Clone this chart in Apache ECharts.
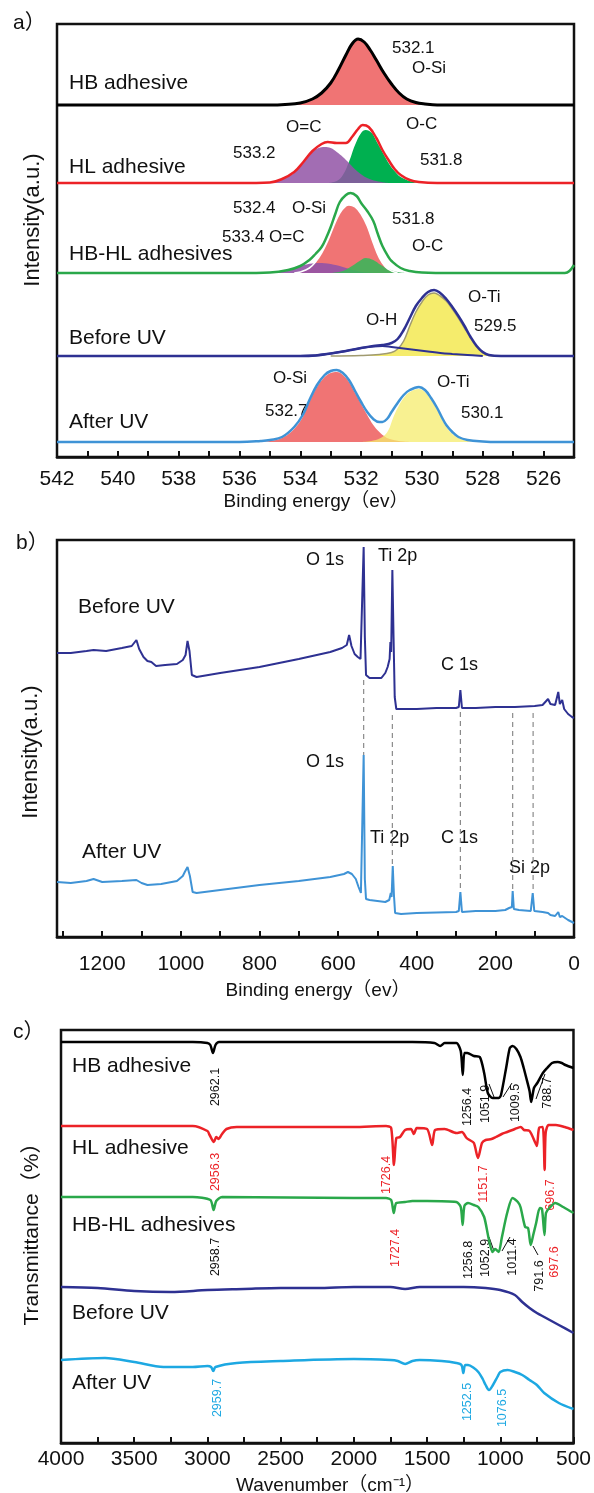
<!DOCTYPE html>
<html>
<head>
<meta charset="utf-8">
<script src="https://cdn.jsdelivr.net/npm/echarts@6/dist/echarts.min.js"></script>
<style>
  html, body { margin: 0; padding: 0; background: #fff; }
  #chart { width: 594px; height: 1493px; }
</style>
</head>
<body>
<div id="chart"></div>
<script>
// ---------- a) O 1s high resolution, heights above each curve's own baseline ----------
const aBase = { hb: 352, hl: 274, hbhl: 184, before: 101, after: 15 }

const hbEnv = [[542,0],[535,0],[534.5,0.5],[534,2],[533.6,6],[533.3,12],[533,22],[532.75,35],[532.5,50],[532.3,61],[532.1,66],[531.9,63],[531.7,55],[531.5,45],[531.25,32],[531,21],[530.75,12],[530.5,6],[530.2,2.5],[529.9,1],[529.5,0],[525,0]]

const hlEnv = [[542,0],[536,0],[535,0.5],[534.6,4],[534.2,11],[533.9,21],[533.6,32],[533.3,39],[533.1,41],[532.8,40],[532.5,40],[532.3,46],[532.1,54],[531.95,58],[531.75,56],[531.5,45],[531.3,33],[531.1,23],[530.9,14],[530.7,8],[530.4,3],[530.1,1],[529.5,0],[525,0]]
const hlOeqC = [[535.2,0],[534.8,2],[534.5,5],[534.2,10],[533.9,20],[533.6,31],[533.4,35],[533.2,36],[533,35],[532.8,31],[532.6,26],[532.4,20],[532.1,11],[531.8,5],[531.5,2],[531.1,0]]
const hlOC = [[533.1,0],[532.8,2],[532.6,8],[532.4,21],[532.2,38],[532,50],[531.85,53],[531.65,50],[531.5,42],[531.3,31],[531.1,20],[530.9,12],[530.7,6],[530.4,2],[530.1,0]]

const hbhlEnv = [[542,0],[536,0],[535,0.5],[534.4,3],[534,7],[533.7,13],[533.5,19],[533.3,26],[533.15,35],[533,46],[532.85,59],[532.7,71],[532.5,78],[532.35,80],[532.15,77],[532,70],[531.8,62],[531.6,52],[531.45,39],[531.3,27],[531.1,16],[531,12],[530.7,5],[530.4,2],[530,0.5],[529,0],[525.3,0],[525.15,2],[525,8]]
const hbhlOSi = [[534.2,0],[534,1],[533.7,5],[533.5,11],[533.3,20],[533.1,32],[532.9,47],[532.7,60],[532.5,67],[532.4,68],[532.2,66],[532,59],[531.8,47],[531.6,30],[531.4,15],[531.2,6],[531,2],[530.8,0]]
const hbhlOeqC = [[535,0],[534.6,2],[534.2,5],[533.8,8.5],[533.4,10],[533,9],[532.6,6],[532.2,2.5],[531.8,0.5],[531.4,0]]
const hbhlOC = [[533,0],[532.6,2],[532.3,7],[532.05,12],[531.85,15],[531.6,13],[531.35,8],[531.1,4],[530.8,1],[530.5,0]]

const beforeEnv = [[542,0],[534,0],[533.5,0.5],[533,2.5],[532.5,5],[532,8],[531.6,10],[531.3,11],[531,13],[530.8,17],[530.6,26],[530.4,38],[530.2,50],[530,58],[529.8,64],[529.6,66],[529.4,63],[529.2,57],[529,49],[528.8,40],[528.6,30],[528.4,19],[528.2,10],[528,4],[527.8,1],[527.4,0],[525,0]]
const beforeOH = [[534,0],[533.5,0.5],[533,2.5],[532.5,5],[532,8],[531.6,9.5],[531.3,10],[531,9],[530.6,7.5],[530.2,6],[529.8,4.5],[529.4,3],[529,2],[528.5,1],[528,0]]
const beforeOTi = [[533,0],[532,0.5],[531.4,1.5],[531,3.5],[530.8,7],[530.6,15],[530.4,30],[530.2,44],[530,54],[529.8,61],[529.6,63],[529.4,60],[529.2,55],[529,47],[528.8,38],[528.6,28],[528.4,18],[528.2,9],[528,3],[527.8,0.5],[527.5,0]]

const afterEnv = [[542,0],[536,0],[535.3,1],[535,2],[534.6,5],[534.2,15],[533.9,28],[533.7,42],[533.45,57],[533.2,67],[533,71],[532.8,72],[532.6,69],[532.4,62],[532.2,51],[532,40],[531.8,30],[531.6,23],[531.4,20],[531.3,20],[531.15,23],[531,30],[530.8,39],[530.6,47],[530.4,52],[530.1,55],[529.9,52],[529.7,44],[529.5,34],[529.35,25],[529.2,17],[529,10],[528.8,5],[528.5,2],[528,0.5],[527.5,0],[525,0]]
const afterOSi = [[535.3,0],[535,1],[534.6,4],[534.2,13],[533.9,26],[533.7,40],[533.45,55],[533.2,65],[533,69],[532.8,70],[532.6,67],[532.4,60],[532.2,49],[532,38],[531.8,27],[531.6,17],[531.4,10],[531.2,5],[531,2.5],[530.6,0.5],[530.2,0]]
const afterOTi = [[532,0],[531.6,1.5],[531.3,5],[531.1,12],[530.95,24],[530.8,34],[530.6,44],[530.4,50],[530.1,53],[529.9,50],[529.7,42],[529.5,32],[529.35,23],[529.2,15],[529,8],[528.8,4],[528.5,1],[528.2,0]]

// ---------- b) survey spectra ----------
const surveyBefore = [[1315,284],[1280,284],[1240,286],[1222,287],[1190,286],[1150,289],[1125,291],[1113,297],[1106,288],[1095,280],[1085,276],[1075,275],[1063,271],[1040,272],[1010,273],[995,277],[988,282],[983,296],[978,286],[972,262],[960,260],[900,264],[800,270],[700,278],[620,285],[590,289],[578,292],[572,302],[566,291],[558,283],[550,280],[543,278],[538,280],[535,390],[532,300],[529,262],[520,259],[500,259],[490,259],[480,264],[474,270],[469,278],[467,295],[465,285],[462,367],[459,300],[456,240],[452,228],[440,228],[400,228],[350,229],[300,229],[293,230],[289,247],[285,229],[250,229],[200,230],[150,230],[100,231],[80,232],[66,238],[60,233],[48,232],[40,245],[36,233],[30,237],[25,228],[15,223],[5,220],[0,219]]
const surveyAfter = [[1315,55],[1280,54],[1240,56],[1222,58],[1200,55],[1150,56],[1113,57],[1100,54],[1085,52],[1050,53],[1010,56],[995,61],[990,65],[983,70],[977,61],[970,45],[960,44],[900,47],[800,52],[700,56],[620,60],[585,63],[575,65],[565,63],[555,58],[548,50],[542,44],[538,46],[535,182],[532,58],[529,38],[520,37],[500,36],[480,35],[470,37],[466,44],[464,40],[461,71],[458,42],[455,24],[440,23],[400,24],[300,25],[293,26],[289,45],[285,25],[250,26],[200,26],[175,27],[165,29],[158,30],[156,46],[153,28],[140,27],[110,26],[105,44],[101,26],[80,25],[66,24],[60,22],[48,21],[40,25],[36,20],[30,21],[15,17],[5,15],[0,14]]
const guideEnergy = [535, 462, 289, 156, 104]
const guideTop = [257, 222, 225, 224, 224]
const guideBottom = [182, 71, 45, 46, 44]

// ---------- c) FTIR ----------
const ftHB = [[4000,401],[3100,401],[3000,400],[2980,398],[2962,390],[2945,398],[2920,401],[2000,401],[1600,401],[1450,400],[1410,397],[1380,400],[1300,400],[1270,392],[1256,368],[1245,390],[1225,390],[1180,387],[1140,386],[1110,370],[1085,350],[1052,345],[1030,345],[1010,345],[995,348],[960,375],[935,395],[916,397],[890,394],[862,386],[840,375],[824,366],[800,352],[789,341],[770,355],[747,360],[709,370],[680,375],[647,380],[608,381],[580,380],[555,378],[500,375]]
const ftHL = [[4000,317],[3100,317],[3000,312],[2985,308],[2956,301],[2940,306],[2925,304],[2900,309],[2870,314],[2800,316],[2000,316],[1780,317],[1745,315],[1726,278],[1710,305],[1685,306],[1650,313],[1610,314],[1590,309],[1570,315],[1500,314],[1465,298],[1445,313],[1380,314],[1300,310],[1262,311],[1230,305],[1210,303],[1180,300],[1152,285],[1125,300],[1100,303],[1060,304],[1030,306],[990,309],[953,311],[900,314],[860,316],[838,313],[800,312],[760,300],[750,297],[735,315],[710,316],[697,273],[690,310],[670,318],[620,318],[560,316],[500,313]]
const ftHBHL = [[4000,246],[3100,246],[2980,243],[2958,233],[2940,242],[2900,246],[2000,245],[1780,245],[1745,243],[1727,230],[1710,240],[1650,241],[1600,242],[1500,242],[1300,241],[1270,236],[1257,218],[1245,237],[1220,240],[1180,238],[1150,236],[1110,226],[1080,205],[1053,191],[1035,194],[1011,191],[990,205],[953,230],[916,245],[880,241],[862,236],[830,216],[810,215],[792,198],[775,208],[755,220],[730,235],[715,234],[698,208],[688,230],[665,235],[625,240],[570,236],[500,230]]
const ftBefore = [[4000,156],[3750,155],[3500,152],[3250,151],[3000,153],[2750,154],[2500,155],[2250,155],[2000,156],[1750,156],[1650,154],[1550,156],[1250,156],[1100,155],[1000,153],[900,148],[850,141],[800,135],[750,130],[700,126],[600,118],[500,110]]
const ftAfter = [[4000,83],[3700,85],[3500,81],[3300,76],[3100,76],[3000,77],[2975,76],[2960,72],[2945,76],[2800,80],[2500,82],[2000,84],[1750,83],[1700,82],[1650,79],[1600,82],[1550,83],[1400,82],[1300,80],[1265,78],[1252,70],[1240,78],[1220,78],[1180,75],[1150,71],[1120,64],[1100,58],[1077,53],[1050,58],[1020,66],[1000,71],[950,73],[900,71],[850,68],[800,63],[750,58],[700,50],[600,40],[500,34]]

const FONT = '"Liberation Sans", Arial, "Noto Sans CJK SC", sans-serif'
const RED = '#ec2227', GREEN = '#2aa84a', NAVY = '#2e3192', SKY = '#3f93d6', CYAN = '#1da8e2'

function shift(arr, base) {
  return arr.map(p => [p[0], base + p[1]])
}

function curve(axis, data, color, width, smooth, z) {
  return {
    type: 'line', xAxisIndex: axis, yAxisIndex: axis, data: data,
    symbol: 'none', smooth: smooth, silent: true, z: z || 3,
    lineStyle: { color: color, width: width }
  }
}

function fill(data, base, color, opacity, edge) {
  return {
    type: 'line', xAxisIndex: 0, yAxisIndex: 0, data: shift(data, base),
    symbol: 'none', smooth: 0.4, silent: true, z: 2,
    lineStyle: edge ? { color: edge, width: 1.5 } : { width: 0 },
    areaStyle: { color: color, opacity: opacity, origin: base }
  }
}

function xAxisOf(grid, min, max, step, labelStep, margin) {
  return {
    gridIndex: grid, type: 'value', min: min, max: max, interval: step, inverse: true,
    axisLine: { onZero: false, lineStyle: { color: '#111', width: 2.5 } },
    axisTick: { inside: true, length: 6, lineStyle: { color: '#111', width: 2 } },
    axisLabel: {
      margin: margin, fontSize: 21, color: '#111', fontFamily: FONT,
      formatter: v => (Math.round(v) % labelStep === 0 ? String(v) : '')
    },
    splitLine: { show: false }
  }
}

function yAxisOf(grid, max) {
  return { gridIndex: grid, type: 'value', min: 0, max: max, show: false }
}

function txt(x, y, text, size, color, align, rot) {
  return {
    type: 'text', x: x, y: y, rotation: rot || 0, silent: true,
    style: { text: text, fill: color || '#111', font: size + 'px ' + FONT,
      textAlign: align || 'left', textVerticalAlign: 'middle' }
  }
}

function arrow(points) {
  return { type: 'polyline', silent: true, shape: { points: points }, style: { stroke: '#111', lineWidth: 1, fill: null } }
}

const UP = Math.PI / 2

const series = [
  // a) fills first, envelopes over them
  fill(hbEnv, aBase.hb, '#f07474', 1, '#999'),
  fill(hlOC, aBase.hl, '#00b050', 1),
  fill(hlOeqC, aBase.hl, '#9253a6', 0.85),
  fill(hbhlOSi, aBase.hbhl, '#f07474', 1, '#fff'),
  fill(hbhlOeqC, aBase.hbhl, '#9253a6', 0.9),
  fill(hbhlOC, aBase.hbhl, '#3cb55a', 0.9),
  fill(beforeOTi, aBase.before, '#f5ec6c', 1, '#a09a70'),
  fill(afterOSi, aBase.after, '#f07474', 1),
  fill(afterOTi, aBase.after, '#f5ec6c', 0.75),
  curve(0, shift(hbEnv, aBase.hb), '#000', 3, 0.4, 4),
  curve(0, shift(hlEnv, aBase.hl), RED, 2.5, 0.4, 4),
  curve(0, shift(hbhlEnv, aBase.hbhl), GREEN, 2.5, 0.4, 4),
  curve(0, shift(beforeOH, aBase.before), NAVY, 2, 0.4, 4),
  curve(0, shift(beforeEnv, aBase.before), NAVY, 2.5, 0.4, 4),
  curve(0, shift(afterEnv, aBase.after), SKY, 2.5, 0.4, 4),
  // b)
  curve(1, surveyBefore, NAVY, 2, false, 4),
  curve(1, surveyAfter, SKY, 2, false, 4),
  // c)
  curve(2, ftHB, '#000', 2.5, 0.25, 4),
  curve(2, ftHL, RED, 2.5, 0.25, 4),
  curve(2, ftHBHL, GREEN, 2.5, 0.25, 4),
  curve(2, ftBefore, NAVY, 2.5, 0.3, 4),
  curve(2, ftAfter, CYAN, 2.5, 0.3, 4)
]

guideEnergy.forEach((e, i) => {
  series.push({
    type: 'line', xAxisIndex: 1, yAxisIndex: 1, symbol: 'none', silent: true, z: 2,
    data: [[e, guideTop[i]], [e, guideBottom[i]]],
    lineStyle: { color: '#8a8a8a', width: 1.2, type: [5, 4] }
  })
})

const graphic = [
  // panel letters and axis names
  txt(13, 23, 'a）', 21), txt(16, 543, 'b）', 21), txt(13, 1032, 'c）', 21),
  txt(33, 220, 'Intensity(a.u.)', 22, '#111', 'center', UP),
  txt(31, 752, 'Intensity(a.u.)', 22, '#111', 'center', UP),
  txt(32, 1229, 'Transmittance（%）', 21, '#111', 'center', UP),
  txt(316, 502, 'Binding energy（ev）', 19, '#111', 'center'),
  txt(318, 991, 'Binding energy（ev）', 19, '#111', 'center'),
  txt(330, 1486, 'Wavenumber（cm⁻¹）', 19, '#111', 'center'),

  // a) sample names and peak annotations
  txt(69, 83, 'HB adhesive', 21), txt(69, 167, 'HL adhesive', 21),
  txt(69, 254, 'HB-HL adhesives', 21), txt(69, 338, 'Before UV', 21), txt(69, 422, 'After UV', 21),
  txt(392, 48, '532.1', 17), txt(412, 68, 'O-Si', 17),
  txt(286, 127, 'O=C', 17), txt(406, 124, 'O-C', 17),
  txt(233, 153, '533.2', 17), txt(420, 160, '531.8', 17),
  txt(233, 208, '532.4', 17), txt(292, 208, 'O-Si', 17),
  txt(392, 219, '531.8', 17),
  txt(222, 237, '533.4', 17), txt(269, 237, 'O=C', 17),
  txt(412, 246, 'O-C', 17),
  txt(468, 297, 'O-Ti', 17), txt(366, 320, 'O-H', 17), txt(474, 326, '529.5', 17),
  txt(273, 378, 'O-Si', 17), txt(437, 382, 'O-Ti', 17),
  txt(265, 411, '532.7', 17), txt(461, 413, '530.1', 17),

  // b)
  txt(78, 607, 'Before UV', 21), txt(82, 852, 'After UV', 21),
  txt(306, 560, 'O 1s', 18), txt(378, 556, 'Ti 2p', 18), txt(441, 665, 'C 1s', 18),
  txt(306, 762, 'O 1s', 18), txt(370, 838, 'Ti 2p', 18), txt(441, 838, 'C 1s', 18), txt(509, 868, 'Si 2p', 18),

  // c)
  txt(72, 1066, 'HB adhesive', 21), txt(72, 1148, 'HL adhesive', 21),
  txt(72, 1225, 'HB-HL adhesives', 21), txt(72, 1313, 'Before UV', 21), txt(72, 1383, 'After UV', 21),
  txt(216, 1087, '2962.1', 12.5, '#111', 'center', UP),
  txt(468, 1107, '1256.4', 12.5, '#111', 'center', UP),
  txt(486, 1104, '1051.9', 12.5, '#111', 'center', UP),
  txt(516, 1103, '1009.5', 12.5, '#111', 'center', UP),
  txt(548, 1093, '788.7', 12.5, '#111', 'center', UP),
  txt(216, 1172, '2956.3', 12.5, RED, 'center', UP),
  txt(387, 1175, '1726.4', 12.5, RED, 'center', UP),
  txt(484, 1184, '1151.7', 12.5, RED, 'center', UP),
  txt(551, 1195, '696.7', 12.5, RED, 'center', UP),
  txt(216, 1257, '2958.7', 12.5, '#111', 'center', UP),
  txt(396, 1248, '1727.4', 12.5, RED, 'center', UP),
  txt(469, 1260, '1256.8', 12.5, '#111', 'center', UP),
  txt(486, 1258, '1052.9', 12.5, '#111', 'center', UP),
  txt(513, 1257, '1011.4', 12.5, '#111', 'center', UP),
  txt(540, 1276, '791.6', 12.5, '#111', 'center', UP),
  txt(555, 1262, '697.6', 12.5, RED, 'center', UP),
  txt(218, 1398, '2959.7', 12.5, CYAN, 'center', UP),
  txt(468, 1402, '1252.5', 12.5, CYAN, 'center', UP),
  txt(503, 1408, '1076.5', 12.5, CYAN, 'center', UP),
  arrow([[489, 1084], [494, 1097]]), arrow([[512, 1083], [503, 1097]]), arrow([[545, 1074], [536, 1099]]),
  arrow([[489, 1237], [494, 1251]]), arrow([[510, 1237], [502, 1251]]), arrow([[538, 1255], [533, 1246]])
]

const chart = echarts.init(document.getElementById('chart'))
chart.setOption({
  backgroundColor: '#fff',
  animation: false,
  grid: [
    { left: 57, top: 24, width: 517, height: 433, show: true, borderColor: '#111', borderWidth: 2.5 },
    { left: 57, top: 540, width: 517, height: 397, show: true, borderColor: '#111', borderWidth: 2.5 },
    { left: 61, top: 1030, width: 515, height: 413, show: true, borderColor: '#111', borderWidth: 2.5 }
  ],
  xAxis: [
    xAxisOf(0, 525, 542, 1, 2, 12),
    xAxisOf(1, 0, 1315, 100, 200, 17),
    xAxisOf(2, 500, 4000, 250, 500, 6)
  ],
  yAxis: [yAxisOf(0, 433), yAxisOf(1, 397), yAxisOf(2, 413)],
  series: series,
  graphic: graphic
})
</script>
</body>
</html>
